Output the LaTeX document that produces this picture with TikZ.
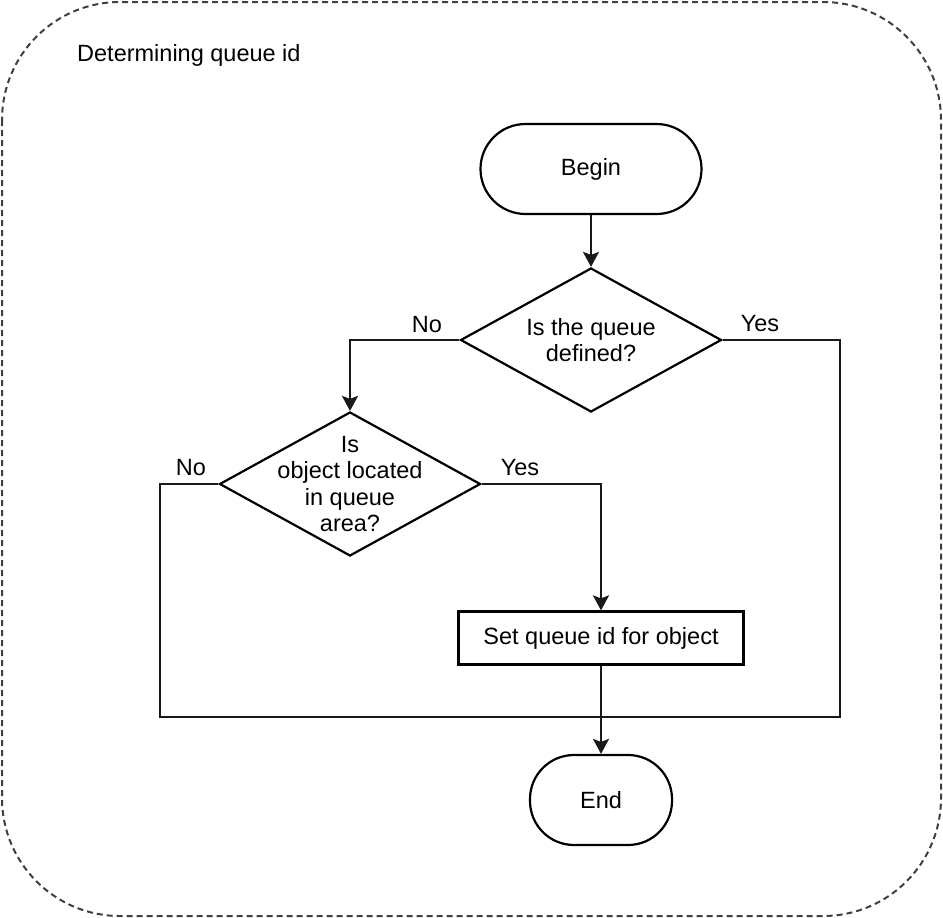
\documentclass[tikz,border=0pt]{standalone}
\usepackage{fontspec}
\setmainfont{Liberation Sans}
\usetikzlibrary{shapes.geometric,arrows.meta}
\begin{document}
\begin{tikzpicture}[x=1pt,y=-1pt,
  every node/.style={font=\fontsize{23.5}{26.5}\selectfont},
  flowline/.style={line width=2.2pt,draw=black!90},
  arr/.style={flowline,-{Stealth[width=16pt,length=15pt,inset=3pt]}},
  terminal/.style={draw,line width=2.2pt,minimum height=90pt,inner sep=0pt},
  decision/.style={draw,line width=2.2pt,diamond,minimum width=261pt,minimum height=144pt,inner sep=0pt},
  procbox/.style={draw,line width=2.2pt,rectangle,minimum width=285pt,minimum height=53pt,inner sep=0pt},
  dtext/.style={align=center,inner sep=0pt},
  lbl/.style={inner sep=0pt}]
\useasboundingbox (0,0) rectangle (943,918);
\draw[line width=2pt,draw=black!75,dash pattern=on 6pt off 4pt,rounded corners=118pt] (2,2) rectangle (941,916);
\node[lbl,anchor=west] (title) at (77,55) {Determining queue id};

\node[terminal,rounded corners=45pt,minimum width=221pt] (begin) at (591,169) {Begin};
\node[decision] (d1) at (591,340) {};
\node[dtext] (d1t) at (591,340) {Is the queue\\defined?};
\node[decision] (d2) at (350,484) {};
\node[dtext] (d2t) at (350,484) {Is\\object located\\in queue\\area?};
\node[procbox] (set) at (601,638) {Set queue id for object};
\node[terminal,rounded corners=44pt,minimum width=142pt] (end) at (601,800) {End};

\coordinate (m) at (601,717);

\draw[arr] (begin.south) -- (d1.north);
\draw[arr] (d1.west) -| (d2.north);
\draw[arr] (d2.east) -| (set.north);
\draw[flowline] (d2.west) -- (160,484) |- (m);
\draw[flowline] (d1.east) -- (840,340) |- (m);
\draw[arr] (set.south) -- (end.north);

\node[lbl] (no1) at (427,325) {No};
\node[lbl] (yes1) at (760,324) {Yes};
\node[lbl] (no2) at (191,468) {No};
\node[lbl] (yes2) at (520,468) {Yes};
\end{tikzpicture}
\end{document}
